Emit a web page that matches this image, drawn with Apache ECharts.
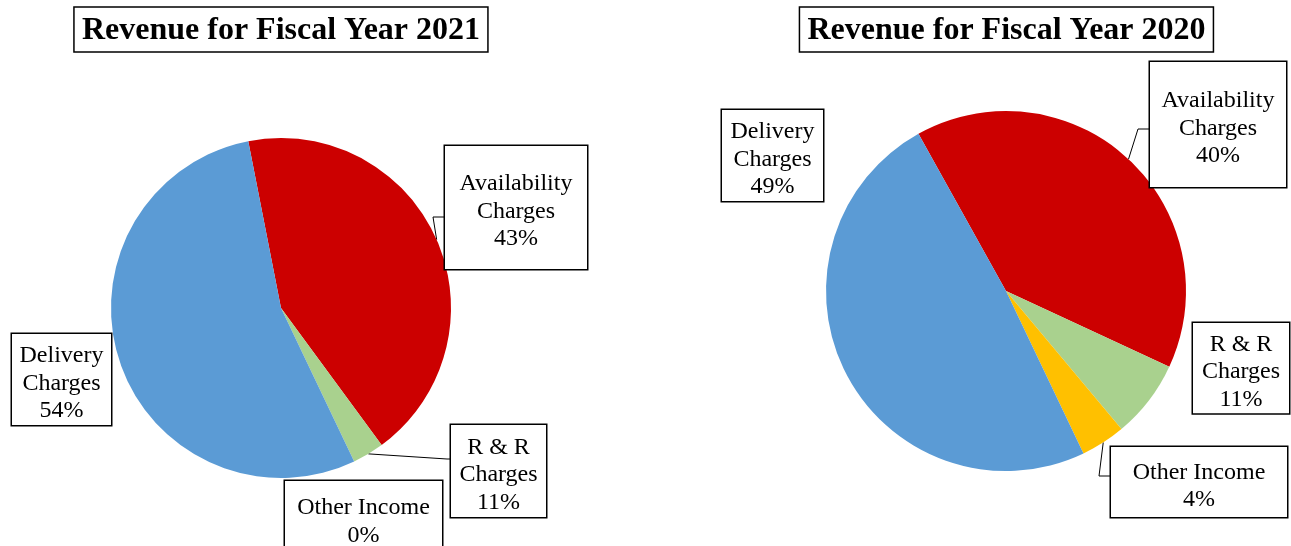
<!DOCTYPE html>
<html>
<head>
<meta charset="utf-8">
<script src="https://cdn.jsdelivr.net/npm/echarts@6/dist/echarts.min.js"></script>
<style>
  html, body { margin: 0; padding: 0; background: #ffffff; }
  #chart { width: 1291px; height: 546px; }
</style>
</head>
<body>
<div id="chart"></div>
<script>
// datos
const categories = ['Availability\nCharges', 'R & R\nCharges', 'Other Income', 'Delivery\nCharges'];
const titles = ['Revenue for Fiscal Year 2021', 'Revenue for Fiscal Year 2020'];
const values2021 = [43, 3, 0, 54];
const values2020 = [40, 7, 4, 49];
// los porcentajes impresos en las etiquetas (no coinciden del todo con los sectores)
const pctLabels2021 = ['43%', '11%', '0%', '54%'];
const pctLabels2020 = ['40%', '11%', '4%', '49%'];

const colors = ['#CC0000', '#A9D18E', '#FFC000', '#5B9BD5'];

// posiciones de las cajas: centro x, centro y, ancho, alto; lineas: [codo, fin] o null
const boxes = [
  [
    { cx: 516, cy: 207.5, w: 142, h: 123, line: [[433, 217], [445, 217]] },
    { cx: 498.5, cy: 471, w: 95, h: 92, line: [[447, 459], [451, 459]] },
    { cx: 363.5, cy: 517.5, w: 157, h: 73, line: null },
    { cx: 61.5, cy: 379.5, w: 99, h: 91, line: null }
  ],
  [
    { cx: 1218, cy: 124.5, w: 136, h: 125, line: [[1138, 129], [1150, 129]] },
    { cx: 1241, cy: 368, w: 96, h: 90, line: null },
    { cx: 1199, cy: 482, w: 176, h: 70, line: [[1099, 476], [1111, 476]] },
    { cx: 772.5, cy: 155.5, w: 101, h: 91, line: null }
  ]
];

const FONT = 'Liberation Serif';
const FS = 24;
const LH = 27.5;
const SHIFT = 4; // el texto va un poco mas abajo dentro de la caja

const ctx = document.createElement('canvas').getContext('2d');
function textWidth(str, size, weight) {
  ctx.font = (weight || 'normal') + ' ' + size + 'px "' + FONT + '"';
  return Math.max(...str.split('\n').map(s => ctx.measureText(s).width));
}

function buildData(values, pcts, boxSet) {
  return values.map((v, i) => {
    const text = categories[i] + '\n' + pcts[i];
    const nLines = text.split('\n').length;
    const b = boxSet[i];
    const tw = textWidth(text, FS);
    const padV = Math.max(0, (b.h - nLines * LH) / 2);
    const padH = Math.max(0, (b.w - tw) / 2);
    return {
      name: categories[i],
      value: v,
      itemStyle: { color: colors[i] },
      label: { formatter: text, padding: [padV + SHIFT, padH, Math.max(0, padV - SHIFT), padH] },
      labelLine: { show: !!b.line }
    };
  });
}

function makeLayout(seriesIdx) {
  return function (params) {
    const b = boxes[seriesIdx][params.dataIndex];
    const out = { x: b.cx, y: b.cy - b.h / 2, align: 'center', verticalAlign: 'top' };
    if (b.line && params.labelLinePoints) {
      out.labelLinePoints = [params.labelLinePoints[0], b.line[0], b.line[1]];
    }
    return out;
  };
}

function titleOpt(text, centerX) {
  const tw = textWidth(text, 32, 'bold');
  const boxW = 414;
  return {
    text: text,
    left: centerX - boxW / 2,
    top: 7,
    padding: [7, (boxW - tw) / 2, 5, (boxW - tw) / 2],
    borderColor: '#000000',
    borderWidth: 1.5,
    textStyle: { fontFamily: FONT, fontSize: 32, fontWeight: 'bold', color: '#000000', lineHeight: 33 }
  };
}

const baseLabel = {
  show: true,
  position: 'outside',
  fontFamily: FONT,
  fontSize: FS,
  lineHeight: LH,
  color: '#000000',
  backgroundColor: '#ffffff',
  borderColor: '#000000',
  borderWidth: 1.5
};

const chart = echarts.init(document.getElementById('chart'));
chart.setOption({
  animation: false,
  backgroundColor: '#ffffff',
  title: [titleOpt(titles[0], 281), titleOpt(titles[1], 1006.5)],
  series: [
    {
      type: 'pie',
      center: [281, 308],
      radius: 170,
      startAngle: 101.1,
      avoidLabelOverlap: false,
      silent: true,
      label: baseLabel,
      labelLine: { lineStyle: { color: '#000000', width: 1 } },
      labelLayout: makeLayout(0),
      data: buildData(values2021, pctLabels2021, boxes[0])
    },
    {
      type: 'pie',
      center: [1006, 291],
      radius: 180,
      startAngle: 119.1,
      avoidLabelOverlap: false,
      silent: true,
      label: baseLabel,
      labelLine: { lineStyle: { color: '#000000', width: 1 } },
      labelLayout: makeLayout(1),
      data: buildData(values2020, pctLabels2020, boxes[1])
    }
  ]
});
</script>
</body>
</html>
